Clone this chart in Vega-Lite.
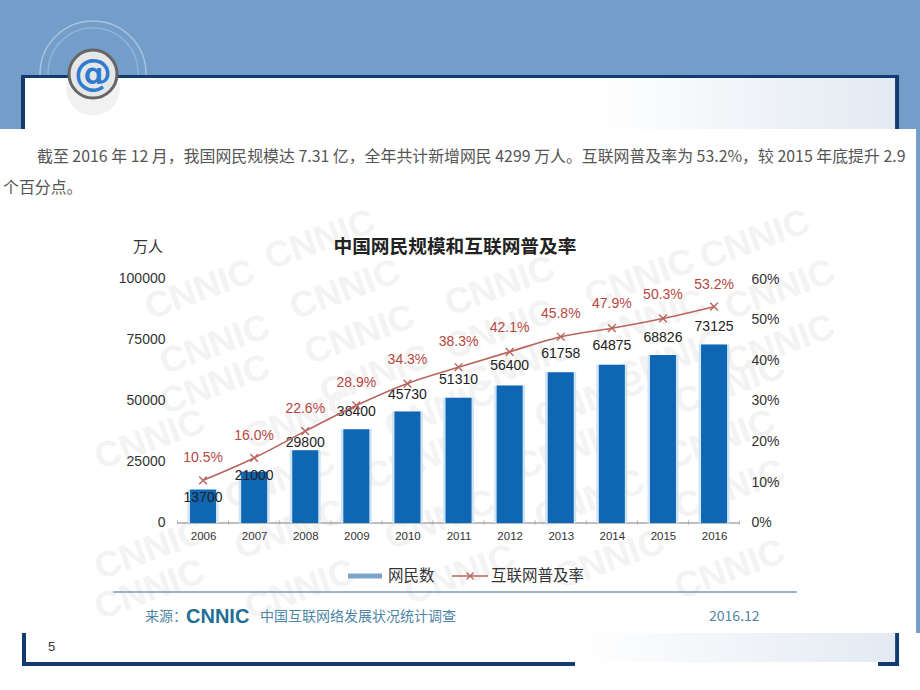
{
"$schema":"https://vega.github.io/schema/vega-lite/v6.json",
"width":920,"height":690,"padding":0,"autosize":{"type":"none"},"background":"#ffffff",
"config":{"view":{"stroke":null},"text":{"font":"Liberation Sans"},"axis":{"grid":false}},
"resolve":{"scale":{"y":"independent"}},
"layer":[
{"layer":[
 {"data":{"values":[
  {"part":"band","x0":2002.027,"x1":2020.03,"v0":214344,"v1":161475},
  {"part":"strip","x0":2019.953,"x1":2020.03,"v0":161475,"v1":-45085}]},
  "mark":{"type":"rect","color":"#749eca"},
  "encoding":{"x":{"field":"x0","type":"quantitative","scale":{"domain":[2002.027,2020.03],"range":[0,920],"nice":false,"zero":false,"padding":0},"axis":{"values":[2006,2007,2008,2009,2010,2011,2012,2013,2014,2015,2016],"format":"d","orient":"bottom","offset":-167,"domain":false,"ticks":false,"labelPadding":7,"labelFontSize":11.5,"labelColor":"#333333","labelFont":"Liberation Sans","labelFlush":false,"labelOverlap":false,"title":null,"zindex":1}},"x2":{"field":"x1"},
   "y":{"field":"v0","type":"quantitative","scale":{"domain":[-68443,214344],"range":[690,0],"nice":false,"zero":false,"padding":0},"axis":{"values":[0,25000,50000,75000,100000],"format":"d","orient":"left","offset":-165,"domain":false,"ticks":false,"labelPadding":0,"labelFontSize":14,"labelColor":"#333333","labelFont":"Liberation Sans","title":null,"zindex":1}},"y2":{"field":"v1"}}},
 {"data":{"values":[{"x":2003.847,"v":184000,"ring":"outer"}]},
  "mark":{"type":"point","shape":"circle","filled":false,"stroke":"#ffffff","strokeOpacity":0.55,"strokeWidth":1.5,"size":11236},
  "encoding":{"x":{"field":"x","type":"quantitative"},"y":{"field":"v","type":"quantitative"}}},
 {"data":{"values":[{"x":2003.847,"v":184500,"ring":"inner"}]},
  "mark":{"type":"point","shape":"circle","filled":false,"stroke":"#ffffff","strokeOpacity":0.35,"strokeWidth":1.2,"size":8100},
  "encoding":{"x":{"field":"x","type":"quantitative"},"y":{"field":"v","type":"quantitative"}}},
 {"data":{"values":[
  {"part":"top","x0":2002.438,"x1":2019.62,"v0":183606,"v1":161475},
  {"part":"left","x0":2002.458,"x1":2002.536,"v0":-45085,"v1":-58609},
  {"part":"bottom","x0":2002.458,"x1":2013.279,"v0":-56970,"v1":-58609},
  {"part":"bottomRight","x0":2019.209,"x1":2019.62,"v0":-56970,"v1":-58609},
  {"part":"right","x0":2019.542,"x1":2019.62,"v0":-45085,"v1":-58609}]},
  "mark":{"type":"rect","color":"#123c70"},
  "encoding":{"x":{"field":"x0","type":"quantitative"},"x2":{"field":"x1"},"y":{"field":"v0","type":"quantitative"},"y2":{"field":"v1"}}},
 {"data":{"values":[
  {"part":"topInner","x0":2002.516,"x1":2019.542,"v0":182377,"v1":161475}]},
  "mark":{"type":"rect","color":{"gradient":"linear","x1":0,"y1":0,"x2":1,"y2":0,"stops":[{"offset":0,"color":"#ffffff"},{"offset":0.65,"color":"#ffffff"},{"offset":1,"color":"#e3eaf2"}]}},
  "encoding":{"x":{"field":"x0","type":"quantitative"},"x2":{"field":"x1"},"y":{"field":"v0","type":"quantitative"},"y2":{"field":"v1"}}},
 {"data":{"values":[
  {"part":"bottomInner","x0":2013.279,"x1":2019.542,"v0":-45085,"v1":-56970}]},
  "mark":{"type":"rect","color":{"gradient":"linear","x1":0,"y1":0,"x2":1,"y2":0,"stops":[{"offset":0,"color":"#ffffff"},{"offset":1,"color":"#e3eaf2"}]}},
  "encoding":{"x":{"field":"x0","type":"quantitative"},"x2":{"field":"x1"},"y":{"field":"v0","type":"quantitative"},"y2":{"field":"v1"}}},
 {"data":{"values":[{"x":2003.847,"v":178000}]},
  "mark":{"type":"point","shape":"circle","filled":true,"color":"#8a8a8a","opacity":0.12,"size":2900},
  "encoding":{"x":{"field":"x","type":"quantitative"},"y":{"field":"v","type":"quantitative"}}},
 {"data":{"values":[{"x":2003.847,"v":184000,"t":"@"}]},
  "mark":{"type":"point","shape":"circle","filled":true,"fill":"#e4e6e8","stroke":"#666666","strokeWidth":3,"opacity":1,"size":2300},
  "encoding":{"x":{"field":"x","type":"quantitative"},"y":{"field":"v","type":"quantitative"}}},
 {"data":{"values":[{"x":2003.847,"v":184000,"t":"@"}]},
  "mark":{"type":"text","fontSize":38,"fontWeight":"bold","color":"#2f7bd0","baseline":"middle","align":"center","font":"DejaVu Sans"},
  "encoding":{"x":{"field":"x","type":"quantitative"},"y":{"field":"v","type":"quantitative"},"text":{"field":"t"}}},
 {"data":{"values":[
  {"x":2008.29,"v":115982},{"x":2016.8,"v":115982},{"x":2005.94,"v":95490},{"x":2008.78,"v":95490},{"x":2011.81,"v":97000},{"x":2014.55,"v":100000},{"x":2017.29,"v":95490},
  {"x":2006.23,"v":72949},{"x":2009.07,"v":77048},{"x":2011.81,"v":79097},{"x":2014.75,"v":83195},
  {"x":2006.23,"v":56556},{"x":2009.37,"v":60659},{"x":2012.2,"v":64752},{"x":2015.14,"v":66802},{"x":2017.29,"v":72949},
  {"x":2004.96,"v":34014},{"x":2007.9,"v":42211},{"x":2010.64,"v":46310},{"x":2013.57,"v":50408},{"x":2016.31,"v":56556},
  {"x":2007.51,"v":17621},{"x":2010.25,"v":25818},{"x":2013.18,"v":29916},{"x":2016.12,"v":34014},
  {"x":2004.96,"v":-11068},{"x":2007.7,"v":-2873},{"x":2010.64,"v":1247},{"x":2013.57,"v":9424},{"x":2016.31,"v":13522},
  {"x":2004.96,"v":-27462},{"x":2007.9,"v":-27462},{"x":2011.03,"v":-21315},{"x":2013.96,"v":-15170},{"x":2016.31,"v":-19268}]},
  "mark":{"type":"text","text":"CNNIC","font":"Liberation Sans","fontWeight":"bold","fontSize":36,"angle":340,"color":"#f3f3f3","align":"center","baseline":"middle"},
  "encoding":{"x":{"field":"x","type":"quantitative"},"y":{"field":"v","type":"quantitative"}}},
 {"data":{"values":[{"x0":2005.5,"x1":2016.5,"v":0}]},
  "mark":{"type":"rule","color":"#a8a8a8","strokeWidth":1.5},
  "encoding":{"x":{"field":"x0","type":"quantitative"},"x2":{"field":"x1"},"y":{"field":"v","type":"quantitative"}}},
 {"data":{"values":[{"x":2005.5},{"x":2006.5},{"x":2007.5},{"x":2008.5},{"x":2009.5},{"x":2010.5},{"x":2011.5},{"x":2012.5},{"x":2013.5},{"x":2014.5},{"x":2015.5},{"x":2016.5}]},
  "mark":{"type":"tick","orient":"vertical","color":"#a8a8a8","size":5,"thickness":1},
  "encoding":{"x":{"field":"x","type":"quantitative"},"y":{"datum":300,"type":"quantitative"}}},
 {"data":{"name":"users","values":[
  {"year":2006,"users":13700,"labelAt":10246},{"year":2007,"users":21000,"labelAt":19262},{"year":2008,"users":29800,"labelAt":32787},{"year":2009,"users":38400,"labelAt":45492},{"year":2010,"users":45730,"labelAt":52459},{"year":2011,"users":51310,"labelAt":58607},{"year":2012,"users":56400,"labelAt":64345},{"year":2013,"users":61758,"labelAt":69263},{"year":2014,"users":64875,"labelAt":72542},{"year":2015,"users":68826,"labelAt":75820},{"year":2016,"users":73125,"labelAt":80329}]},
  "layer":[
   {"mark":{"type":"bar","color":"#cfe4f5","size":31},
    "encoding":{"x":{"field":"year","type":"quantitative"},
     "y":{"field":"users","type":"quantitative"}}},
   {"mark":{"type":"bar","color":"#0f66b3","size":26},
    "encoding":{"x":{"field":"year","type":"quantitative"},"y":{"field":"users","type":"quantitative"}}},
   {"mark":{"type":"text","fontSize":14,"color":"#222222","align":"center","baseline":"middle","font":"Liberation Sans"},
    "encoding":{"x":{"field":"year","type":"quantitative"},"y":{"field":"labelAt","type":"quantitative"},"text":{"field":"users","type":"quantitative","format":"d"}}}
  ]},
 {"data":{"values":[
  {"t":"截至 2016 年 12 月，我国网民规模达 7.31 亿，全年共计新增网民 4299 万人。互联网普及率为 53.2%，较 2015 年底提升 2.9","x":2002.751,"v":149999},
  {"t":"个百分点。","x":2002.086,"v":137294}]},
  "mark":{"type":"text","font":"Noto Sans CJK SC","fontSize":15.9,"color":"#555555","align":"left","baseline":"middle"},
  "encoding":{"x":{"field":"x","type":"quantitative"},"y":{"field":"v","type":"quantitative"},"text":{"field":"t"}}},
 {"data":{"values":[{"t":"中国网民规模和互联网普及率","x":2010.93,"v":113116}]},
  "mark":{"type":"text","font":"Noto Sans CJK SC","fontWeight":"bold","fontSize":18.7,"color":"#222222","align":"center","baseline":"middle"},
  "encoding":{"x":{"field":"x","type":"quantitative"},"y":{"field":"v","type":"quantitative"},"text":{"field":"t"}}},
 {"data":{"values":[{"t":"万人","x":2004.923,"v":113116}]},
  "mark":{"type":"text","font":"Noto Sans CJK SC","fontSize":15,"color":"#333333","align":"center","baseline":"middle"},
  "encoding":{"x":{"field":"x","type":"quantitative"},"y":{"field":"v","type":"quantitative"},"text":{"field":"t"}}},
 {"data":{"values":[{"x0":2008.837,"x1":2009.502,"v":-21724}]},
  "mark":{"type":"rule","color":"#7ba3cb","strokeWidth":5},
  "encoding":{"x":{"field":"x0","type":"quantitative"},"x2":{"field":"x1"},"y":{"field":"v","type":"quantitative"}}},
 {"data":{"values":[{"x0":2010.872,"x1":2011.577,"v":-21724}]},
  "mark":{"type":"rule","color":"#b8655e","strokeWidth":1.5},
  "encoding":{"x":{"field":"x0","type":"quantitative"},"x2":{"field":"x1"},"y":{"field":"v","type":"quantitative"}}},
 {"data":{"values":[{"x":2011.225,"v":-21724}]},
  "mark":{"type":"point","shape":"M-1,-1L1,1M-1,1L1,-1","filled":false,"stroke":"#b8655e","strokeWidth":1.3,"size":50,"opacity":1},
  "encoding":{"x":{"field":"x","type":"quantitative"},"y":{"field":"v","type":"quantitative"}}},
 {"data":{"values":[{"t":"网民数","x":2009.62,"v":-21724},{"t":"互联网普及率","x":2011.636,"v":-21724}]},
  "mark":{"type":"text","font":"Noto Sans CJK SC","fontSize":15.5,"color":"#333333","align":"left","baseline":"middle"},
  "encoding":{"x":{"field":"x","type":"quantitative"},"y":{"field":"v","type":"quantitative"},"text":{"field":"t"}}},
 {"data":{"values":[{"x0":2004.24,"x1":2017.62,"v":-28281}]},
  "mark":{"type":"rule","color":"#7e9ab6","strokeWidth":1.5},
  "encoding":{"x":{"field":"x0","type":"quantitative"},"x2":{"field":"x1"},"y":{"field":"v","type":"quantitative"}}},
 {"data":{"values":[{"t":"来源：","x":2004.865,"v":-38527},{"t":"中国互联网络发展状况统计调查","x":2007.115,"v":-38527},{"t":"2016.12","x":2015.902,"v":-38527}]},
  "mark":{"type":"text","font":"Noto Sans CJK SC","fontSize":14,"color":"#4f86a8","align":"left","baseline":"middle"},
  "encoding":{"x":{"field":"x","type":"quantitative"},"y":{"field":"v","type":"quantitative"},"text":{"field":"t"}}},
 {"data":{"values":[{"t":"CNNIC","x":2005.667,"v":-38527}]},
  "mark":{"type":"text","font":"Liberation Sans","fontWeight":"bold","fontSize":20,"color":"#1f6f94","align":"left","baseline":"middle"},
  "encoding":{"x":{"field":"x","type":"quantitative"},"y":{"field":"v","type":"quantitative"},"text":{"field":"t"}}},
 {"data":{"values":[{"t":"5","x":2002.966,"v":-50822}]},
  "mark":{"type":"text","font":"Liberation Sans","fontSize":13,"color":"#333333","align":"left","baseline":"middle"},
  "encoding":{"x":{"field":"x","type":"quantitative"},"y":{"field":"v","type":"quantitative"},"text":{"field":"t"}}}
]},
{"data":{"values":[
  {"year":2006,"rate":10.5,"labelAt":15.98},{"year":2007,"rate":16.0,"labelAt":21.39},{"year":2008,"rate":22.6,"labelAt":28.03},{"year":2009,"rate":28.9,"labelAt":34.43},{"year":2010,"rate":34.3,"labelAt":40.08},{"year":2011,"rate":38.3,"labelAt":44.51},{"year":2012,"rate":42.1,"labelAt":47.95},{"year":2013,"rate":45.8,"labelAt":51.39},{"year":2014,"rate":47.9,"labelAt":53.85},{"year":2015,"rate":50.3,"labelAt":56.07},{"year":2016,"rate":53.2,"labelAt":58.52}]},
 "layer":[
  {"mark":{"type":"line","color":"#b8655e","strokeWidth":1.6,"interpolate":"monotone"},
   "encoding":{"x":{"field":"year","type":"quantitative"},
    "y":{"field":"rate","type":"quantitative","scale":{"domain":[-41.066,128.607],"range":[690,0],"nice":false,"zero":false},
     "axis":{"values":[0,10,20,30,40,50,60],"orient":"right","offset":-169,"domain":false,"ticks":false,"labelPadding":0,"labelFontSize":14,"labelColor":"#333333","labelFont":"Liberation Sans","labelExpr":"datum.value + '%'","title":null,"zindex":1}}}},
  {"mark":{"type":"point","shape":"M-1,-1L1,1M-1,1L1,-1","filled":false,"stroke":"#b8655e","strokeWidth":1.4,"size":60,"opacity":1},
   "encoding":{"x":{"field":"year","type":"quantitative"},"y":{"field":"rate","type":"quantitative"}}},
  {"transform":[{"calculate":"format(datum.rate,'.1f')+'%'","as":"pct"}],
   "mark":{"type":"text","fontSize":14,"color":"#b5473f","align":"center","baseline":"middle","font":"Liberation Sans"},
   "encoding":{"x":{"field":"year","type":"quantitative"},"y":{"field":"labelAt","type":"quantitative"},"text":{"field":"pct"}}}
 ]}
]}
